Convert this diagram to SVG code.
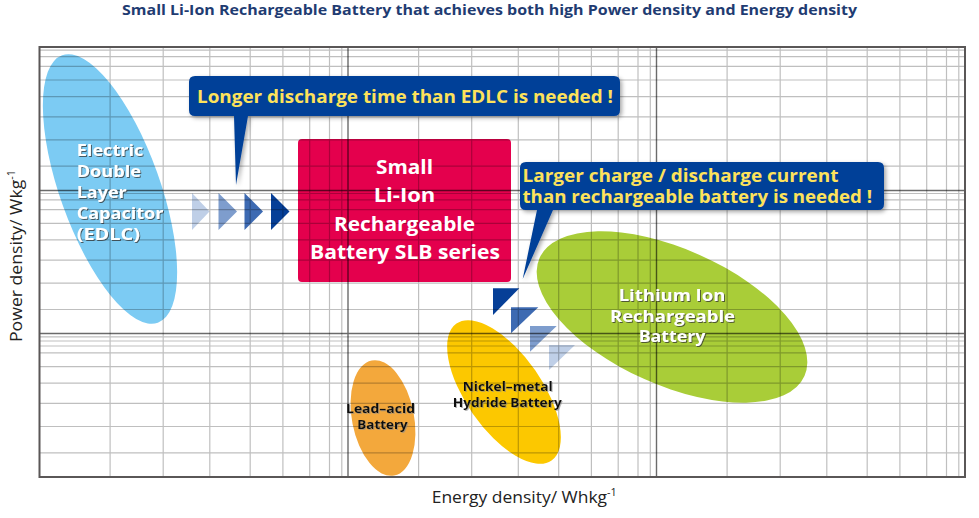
<svg xmlns="http://www.w3.org/2000/svg" width="979" height="518" viewBox="0 0 979 518">
<defs>
<filter id="ts" x="-10%" y="-20%" width="120%" height="150%"><feDropShadow dx="1" dy="1" stdDeviation="0.6" flood-color="#333" flood-opacity="0.75"/></filter>
<filter id="tsl" x="-10%" y="-20%" width="120%" height="150%"><feDropShadow dx="1" dy="1" stdDeviation="0.6" flood-color="#888" flood-opacity="0.6"/></filter>
<filter id="cs" x="-5%" y="-10%" width="110%" height="130%"><feDropShadow dx="2" dy="2" stdDeviation="2" flood-color="#000" flood-opacity="0.35"/></filter>
</defs>
<style>
.lbl{font-family:"Open Sans","Noto Sans","DejaVu Sans",sans-serif;font-weight:bold}
.wt{fill:#ffffff;filter:url(#ts)}
.bk{fill:#111111;filter:url(#tsl)}
.yl{fill:#fde25b}
.ax{font-family:"Open Sans","Noto Sans","DejaVu Sans",sans-serif;font-size:17px;fill:#222222}
.minor{stroke:#000;stroke-opacity:0.25;stroke-width:1.2;fill:none}
.major{stroke:#000;stroke-opacity:0.58;stroke-width:1.4;fill:none}
.callout{fill:#004098;filter:url(#cs)}
</style>
<rect x="0" y="0" width="979" height="518" fill="#ffffff"/>
<text class="lbl" x="122" y="14.5" font-size="14.5" fill="#1f3c72" textLength="735" lengthAdjust="spacingAndGlyphs">Small Li-Ion Rechargeable Battery that achieves both high Power density and Energy density</text>

<g id="edlc"><ellipse cx="110" cy="189" rx="50" ry="142" transform="rotate(-19.7 110 189)" fill="#7ccbf3"/></g>
<g id="lead-acid"><ellipse cx="383" cy="418" rx="31" ry="58.6" transform="rotate(-11 383 418)" fill="#f3a83c"/></g>
<g id="nimh"><ellipse cx="504" cy="392" rx="38" ry="83.3" transform="rotate(-34.8 504 392)" fill="#fcc800"/></g>
<g id="liion"><ellipse cx="672" cy="317" rx="145" ry="68" transform="rotate(24 672 317)" fill="#a9cd38"/></g>
<g id="slb"><rect x="298" y="139" width="213" height="143" rx="4" fill="#e4004d"/></g>

<g id="connectors">
<polygon points="192,193 209.5,211.5 192,230" fill="#bfcfe7"/>
<polygon points="218.5,193 237,211.5 218.5,230" fill="#7e9dcd"/>
<polygon points="244.5,193 263,211.5 244.5,230" fill="#3d6ab2"/>
<polygon points="271,193 289.5,211.5 271,230" fill="#063f97"/>
<polygon points="493,288.3 519.3,288.3 493,315" fill="#063f97"/>
<polygon points="511,307.3 538.3,307.3 511,333.3" fill="#3d6ab2"/>
<polygon points="530,326 556.7,326 530,351.7" fill="#7e9dcd"/>
<polygon points="549,345 575,345 549,370" fill="#bfcfe7"/>
</g>

<g id="grid">
<path class="minor" d="M110.1,47V477M163.2,47V477M209.8,47V477M250.2,47V477M282.9,47V477M309.7,47V477M329.5,47V477M341.8,47V477M418.6,47V477M471.7,47V477M518.3,47V477M558.7,47V477M591.4,47V477M618.2,47V477M638,47V477M650.3,47V477M727.1,47V477M780.2,47V477M826.8,47V477M867.2,47V477M899.9,47V477M926.7,47V477M946.5,47V477M958.8,47V477
M39.5,50.2H965M39.5,56.6H965M39.5,66.3H965M39.5,80H965M39.5,96.6H965M39.5,116.8H965M39.5,139.9H965M39.5,166.2H965M39.5,193.5H965M39.5,199.9H965M39.5,209.6H965M39.5,223.3H965M39.5,239.9H965M39.5,260.1H965M39.5,283.2H965M39.5,309.5H965M39.5,336.8H965M39.5,341H965M39.5,346H965M39.5,352.9H965M39.5,366.6H965M39.5,383.2H965M39.5,403.4H965M39.5,426.5H965M39.5,452.8H965"/>
<path class="major" d="M348,47V477M656.5,47V477M39.5,190.5H965M39.5,333.5H965"/>
<rect x="39.5" y="47" width="925.5" height="430" fill="none" stroke="#5a5757" stroke-width="2"/>
</g>

<g id="callout1">
<path class="callout" d="M195,76H614Q620,76 620,82V110Q620,116 614,116H248L236,185L234,116H195Q189,116 189,110V82Q189,76 195,76Z"/>
<text class="lbl yl" x="197" y="102.7" font-size="18.5" textLength="416" lengthAdjust="spacingAndGlyphs">Longer discharge time than EDLC is needed !</text>
</g>
<g id="callout2">
<path class="callout" d="M526,162H878Q884,162 884,168V204Q884,210 878,210H553L522.7,279L537,210H526Q520,210 520,204V168Q520,162 526,162Z"/>
<text class="lbl yl" x="522.5" y="182" font-size="17" textLength="316" lengthAdjust="spacingAndGlyphs">Larger charge / discharge current</text>
<text class="lbl yl" x="522.5" y="203" font-size="17" textLength="349.5" lengthAdjust="spacingAndGlyphs">than rechargeable battery is needed !</text>
</g>

<g id="slb-label" class="lbl" font-size="19.5" fill="#ffffff" text-anchor="middle">
<text x="404.5" y="174" textLength="57" lengthAdjust="spacingAndGlyphs">Small</text>
<text x="404.5" y="202.3" textLength="61.7" lengthAdjust="spacingAndGlyphs">Li-Ion</text>
<text x="404.5" y="230.5" textLength="141" lengthAdjust="spacingAndGlyphs">Rechargeable</text>
<text x="405" y="258.5" textLength="190" lengthAdjust="spacingAndGlyphs">Battery SLB series</text>
</g>

<g id="edlc-label" class="lbl wt" font-size="16">
<text x="76.7" y="156" textLength="66.7" lengthAdjust="spacingAndGlyphs">Electric</text>
<text x="76.7" y="177" textLength="64.3" lengthAdjust="spacingAndGlyphs">Double</text>
<text x="76.7" y="197.5" textLength="50" lengthAdjust="spacingAndGlyphs">Layer</text>
<text x="76.7" y="218.5" textLength="86.7" lengthAdjust="spacingAndGlyphs">Capacitor</text>
<text x="76.7" y="239.5" textLength="63.3" lengthAdjust="spacingAndGlyphs">(EDLC)</text>
</g>

<g id="liion-label" class="lbl wt" font-size="16" text-anchor="middle">
<text x="672" y="301" textLength="106.7" lengthAdjust="spacingAndGlyphs">Lithium Ion</text>
<text x="672.5" y="321.7" textLength="125" lengthAdjust="spacingAndGlyphs">Rechargeable</text>
<text x="672" y="342" textLength="66.7" lengthAdjust="spacingAndGlyphs">Battery</text>
</g>

<g id="lead-label" class="lbl bk" font-size="12.5" text-anchor="middle">
<text x="380.5" y="413.3" textLength="69" lengthAdjust="spacingAndGlyphs">Lead–acid</text>
<text x="382.5" y="429" textLength="50.4" lengthAdjust="spacingAndGlyphs">Battery</text>
</g>

<g id="nimh-label" class="lbl bk" font-size="12.5" text-anchor="middle">
<text x="507.7" y="391" textLength="90" lengthAdjust="spacingAndGlyphs">Nickel–metal</text>
<text x="507.2" y="406.7" textLength="109" lengthAdjust="spacingAndGlyphs">Hydride Battery</text>
</g>

<g id="axes">
<text class="ax" x="431.7" y="503.3" textLength="185" lengthAdjust="spacingAndGlyphs">Energy density/ Whkg<tspan font-size="10.5" dy="-7">-1</tspan></text>
<text class="ax" transform="translate(21.7 342) rotate(-90)" x="0" y="0" textLength="172" lengthAdjust="spacingAndGlyphs">Power density/ Wkg<tspan font-size="10.5" dy="-7">-1</tspan></text>
</g>
</svg>
